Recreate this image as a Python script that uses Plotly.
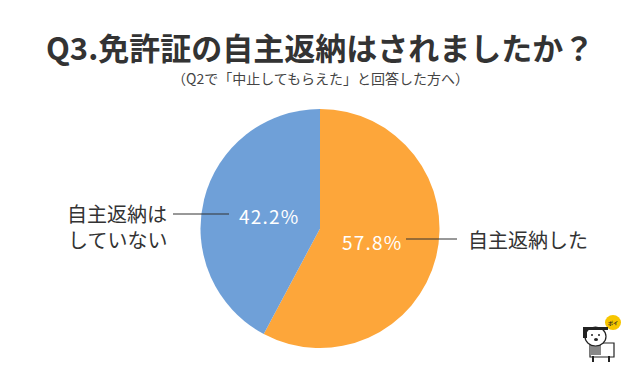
import math
import plotly.graph_objects as go

labels = ["自主返納した", "自主返納はしていない"]
values = [57.8, 42.2]
colors = ["#FDA63A", "#6FA0D8"]
title_text = "Q3.免許証の自主返納はされましたか？"
subtitle_text = "（Q2で「中止してもらえた」と回答した方へ）"
left_label_lines = ["自主返納は", "していない"]

W, H = 640, 375
cx, cy, r = 320, 228.5, 119.5
font = "Noto Sans CJK JP"

fig = go.Figure(go.Pie(
    labels=labels, values=values, sort=False, direction="clockwise", rotation=0,
    marker=dict(colors=colors, line=dict(width=0)),
    textinfo="none", hoverinfo="skip", showlegend=False,
    domain=dict(x=[(cx - r) / W, (cx + r) / W], y=[(H - cy - r) / H, (H - cy + r) / H]),
))

def px(x):
    return x / W

def py(y):
    return 1 - y / H

# percentage labels placed at each slice's mid-angle
total = sum(values)
start = 0.0
for v in values:
    mid = (start + v / 2) / total * 2 * math.pi
    start += v
    x = cx + 0.44 * r * math.sin(mid)
    y = cy - 0.44 * r * math.cos(mid)
    txt = "\u200a".join(f"{v:.1f}%")
    fig.add_annotation(x=px(x), y=py(y), xref="paper", yref="paper", text=txt,
                       showarrow=False, xanchor="center", yanchor="middle",
                       font=dict(family=font, size=19, color="white"))

fig.add_annotation(x=0.5, y=py(46), xref="paper", yref="paper", text="<b>" + title_text + "</b>",
                   showarrow=False, yanchor="middle", font=dict(family=font, size=31, color="#333333"))
fig.add_annotation(x=0.5, y=py(78), xref="paper", yref="paper", text=subtitle_text,
                   showarrow=False, yanchor="middle", font=dict(family=font, size=14, color="#444444"))
fig.add_annotation(x=px(65), y=py(213), xref="paper", yref="paper", text=left_label_lines[0],
                   showarrow=False, xanchor="left", yanchor="middle", height=24,
                   font=dict(family=font, size=20, color="#333333"))
fig.add_annotation(x=px(66), y=py(239), xref="paper", yref="paper", text=left_label_lines[1],
                   showarrow=False, xanchor="left", yanchor="middle", height=24,
                   font=dict(family=font, size=20, color="#333333"))
fig.add_annotation(x=px(466), y=py(239), xref="paper", yref="paper", text=labels[0],
                   showarrow=False, xanchor="left", yanchor="middle",
                   font=dict(family=font, size=20, color="#333333"))
fig.add_shape(type="line", xref="paper", yref="paper", x0=px(173), x1=px(229), y0=py(214), y1=py(214),
              line=dict(color="#333333", width=1))
fig.add_shape(type="line", xref="paper", yref="paper", x0=px(406), x1=px(457), y0=py(239), y1=py(239),
              line=dict(color="#333333", width=1))

# small mascot decoration (bottom right)
def rect(x0, y0, x1, y1, **kw):
    fig.add_shape(type="rect", xref="paper", yref="paper", x0=px(x0), x1=px(x1), y0=py(y1), y1=py(y0), **kw)

def circ(x0, y0, x1, y1, **kw):
    fig.add_shape(type="circle", xref="paper", yref="paper", x0=px(x0), x1=px(x1), y0=py(y1), y1=py(y0), **kw)

circ(605, 315, 621, 330, fillcolor="#F7C600", line=dict(width=0))
fig.add_annotation(x=px(613), y=py(322.5), xref="paper", yref="paper", text="<b>ポイ</b>", showarrow=False,
                   xanchor="center", yanchor="middle", font=dict(family=font, size=5, color="#222"))
rect(590, 343, 614, 357, fillcolor="white", line=dict(color="#222", width=1.2))
rect(590, 345, 601, 355, fillcolor="#888888", line=dict(width=0))
rect(592, 356, 594, 362, fillcolor="#222", line=dict(width=0))
rect(608, 356, 610, 362, fillcolor="#222", line=dict(width=0))
circ(585, 327, 606, 346, fillcolor="white", line=dict(color="#222", width=1.2))
rect(583, 327, 608, 330, fillcolor="#222", line=dict(width=0))
rect(583, 329, 587, 338, fillcolor="#222", line=dict(width=0))
circ(591, 334, 593, 336, fillcolor="#222", line=dict(width=0))
circ(598, 334, 600, 336, fillcolor="#222", line=dict(width=0))
circ(594, 338, 598, 341, fillcolor="#222", line=dict(width=0))

fig.update_layout(width=W, height=H, margin=dict(l=0, r=0, t=0, b=0),
                  paper_bgcolor="white", plot_bgcolor="white")
fig.write_html("out.html", config={"displayModeBar": False},
               post_script="document.body.style.margin='0';")
